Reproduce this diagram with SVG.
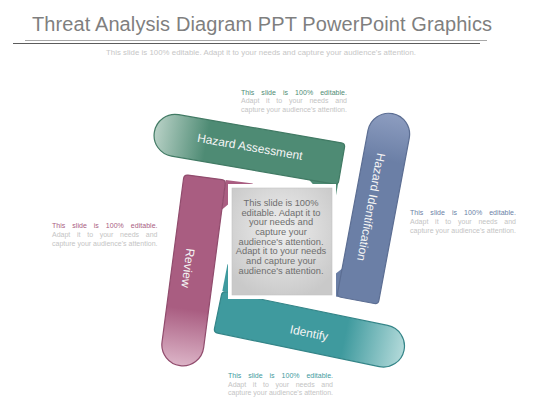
<svg xmlns="http://www.w3.org/2000/svg" width="560" height="420" viewBox="0 0 560 420">
<defs>
<style>
.title{font-family:"Liberation Sans",Arial,sans-serif;font-size:20px;fill:#7f7f7f}
.sub{font-family:"Liberation Sans",Arial,sans-serif;font-size:7.8px;fill:#c6c6c6}
.lbl{font-family:"Liberation Sans",Arial,sans-serif;font-size:12px;fill:#f4f4f4;text-anchor:middle}
.box{font-family:"Liberation Sans",Arial,sans-serif;font-size:9.3px;fill:#6e6e6e;text-anchor:middle}
.s1{font-family:"Liberation Sans",Arial,sans-serif;font-size:7px}
.s2{font-family:"Liberation Sans",Arial,sans-serif;font-size:7px;fill:#c4c4c4}
</style>
<path id="bar" d="M -74,-21 H 91 Q 95,-21 95,-17 V 17 Q 95,21 91,21 H -74 A 21 21 0 0 1 -74,-21 Z"/>
<linearGradient id="gG" x1="0" y1="0" x2="1" y2="0"><stop offset="0" stop-color="#b8d1c6"/><stop offset="0.28" stop-color="#4e8b74"/><stop offset="1" stop-color="#4e8b74"/></linearGradient>
<linearGradient id="gP" x1="0" y1="0" x2="1" y2="0"><stop offset="0" stop-color="#dcb4c7"/><stop offset="0.3" stop-color="#a95d81"/><stop offset="1" stop-color="#a95d81"/></linearGradient>
<linearGradient id="gB" x1="0" y1="0" x2="1" y2="0"><stop offset="0" stop-color="#8d9dc0"/><stop offset="0.25" stop-color="#6b7fa6"/><stop offset="1" stop-color="#6b7fa6"/></linearGradient>
<linearGradient id="gT" x1="0" y1="0" x2="1" y2="0"><stop offset="0" stop-color="#b3dada"/><stop offset="0.32" stop-color="#3f9a9e"/><stop offset="1" stop-color="#3f9a9e"/></linearGradient>
<radialGradient id="gBox" cx="0.5" cy="0.4" r="0.65"><stop offset="0" stop-color="#efefef"/><stop offset="1" stop-color="#c9c9c9"/></radialGradient>
</defs>
<rect width="560" height="420" fill="#ffffff"/>

<g id="header">
<text class="title" x="32" y="31" textLength="460">Threat Analysis Diagram PPT PowerPoint Graphics</text>
<line x1="25" y1="40.5" x2="487" y2="40.5" stroke="#a8a8a8" stroke-width="1"/>
<line x1="13" y1="43.5" x2="480" y2="43.5" stroke="#5c5c5c" stroke-width="1"/>
<text class="sub" x="106" y="55" textLength="310">This slide is 100% editable. Adapt it to your needs and capture your audience's attention.</text>
</g>

<g id="hazard-assessment">
<polygon points="338,184 333.7,208.6 308.5,178.9" fill="#4e8b74"/>
<use href="#bar" transform="translate(248,148) rotate(9.8)" fill="url(#gG)" stroke="#417a64" stroke-width="1.2"/>
<text class="lbl" transform="translate(250,147) rotate(9.8)" x="0" y="4">Hazard Assessment</text>
</g>

<g id="hazard-identification">
<polygon points="312,292.3 338.5,297 343.5,267.5" fill="#6b7fa6"/>
<use href="#bar" transform="translate(375,207) rotate(100.6)" fill="url(#gB)" stroke="#5c6e93" stroke-width="1.2"/>
<text class="lbl" transform="translate(371,207) rotate(100.6)" x="0" y="4">Hazard Identification</text>
</g>

<g id="review">
<polygon points="225.7,180 253,183.6 221.8,209.7" fill="#a95d81"/>
<use href="#bar" transform="translate(192.5,271.5) rotate(-82.5)" fill="url(#gP)" stroke="#914c6d" stroke-width="1.2"/>
<text class="lbl" transform="translate(188,268) rotate(97.5)" x="0" y="4">Review</text>
</g>

<g id="identify">
<polygon points="222.3,291 227.5,264 252,297" fill="#3f9a9e"/>
<use href="#bar" transform="translate(311,331) rotate(191.7)" fill="url(#gT)" stroke="#348588" stroke-width="1.2"/>
<text class="lbl" transform="translate(309,333) rotate(11.7)" x="0" y="4">Identify</text>
</g>

<g id="center-box">
<rect x="228" y="184" width="108" height="115" fill="#ffffff"/>
<rect x="232" y="188" width="100" height="107" fill="url(#gBox)" stroke="#c2c2c2" stroke-width="0.6"/>
<text class="box" x="281" y="205.5">This slide is 100%</text>
<text class="box" x="281" y="215.5">editable. Adapt it to</text>
<text class="box" x="281" y="225.2">your needs and</text>
<text class="box" x="281" y="234.9">capture your</text>
<text class="box" x="281" y="244.6">audience's attention.</text>
<text class="box" x="281" y="254.3">Adapt it to your needs</text>
<text class="box" x="281" y="264">and capture your</text>
<text class="box" x="281" y="273.7">audience's attention.</text>
</g>

<g id="note-top">
<text class="s1" x="241" y="94.5" fill="#4e8b74" textLength="106" lengthAdjust="spacing" style="word-spacing:5px">This slide is 100% editable.</text>
<text class="s2" x="241" y="103" textLength="106" lengthAdjust="spacing" style="word-spacing:4.8px">Adapt it to your needs and</text>
<text class="s2" x="241" y="111.5" textLength="106" lengthAdjust="spacing">capture your audience's attention.</text>
</g>

<g id="note-left">
<text class="s1" x="52" y="228" fill="#a95d81" textLength="105.5" lengthAdjust="spacing" style="word-spacing:5px">This slide is 100% editable.</text>
<text class="s2" x="52" y="237" textLength="105.5" lengthAdjust="spacing" style="word-spacing:4.8px">Adapt it to your needs and</text>
<text class="s2" x="52" y="245.5" textLength="105.5" lengthAdjust="spacing">capture your audience's attention.</text>
</g>

<g id="note-right">
<text class="s1" x="410" y="215" fill="#6b7fa6" textLength="106" lengthAdjust="spacing" style="word-spacing:5px">This slide is 100% editable.</text>
<text class="s2" x="410" y="224" textLength="106" lengthAdjust="spacing" style="word-spacing:4.8px">Adapt it to your needs and</text>
<text class="s2" x="410" y="232.5" textLength="106" lengthAdjust="spacing">capture your audience's attention.</text>
</g>

<g id="note-bottom">
<text class="s1" x="228" y="377.5" fill="#3f9a9e" textLength="105" lengthAdjust="spacing" style="word-spacing:5px">This slide is 100% editable.</text>
<text class="s2" x="228" y="386.5" textLength="105" lengthAdjust="spacing" style="word-spacing:4.8px">Adapt it to your needs and</text>
<text class="s2" x="228" y="394.5" textLength="105" lengthAdjust="spacing">capture your audience's attention.</text>
</g>
</svg>
